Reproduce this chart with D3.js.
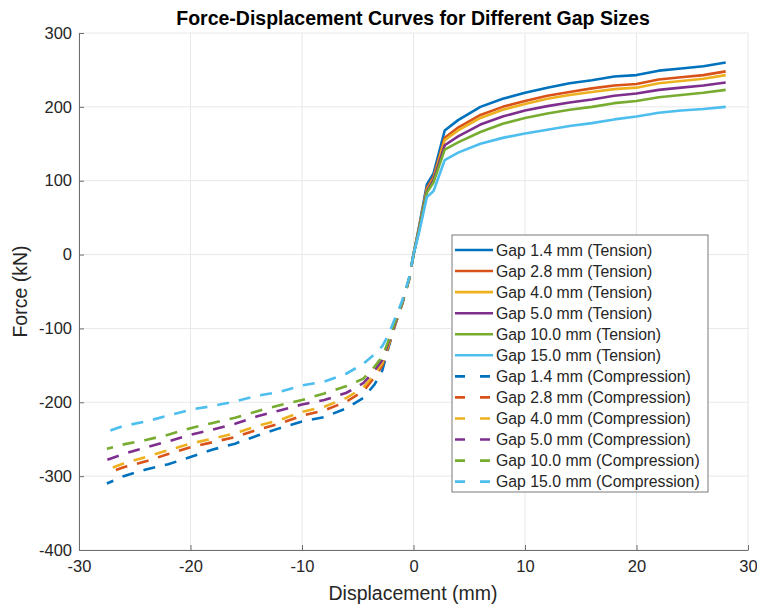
<!DOCTYPE html>
<html>
<head>
<meta charset="utf-8">
<script src="https://cdn.jsdelivr.net/npm/d3@7"></script>
<style>
  body { margin: 0; background: #fff; }
  svg text { font-family: "Liberation Sans", Arial, sans-serif; fill: #262626; }
</style>
</head>
<body>
<svg id="svg" width="757" height="604"></svg>
<script>
const svg = d3.select('#svg')

// ------ data ------
const gapLabels = ['1.4', '2.8', '4.0', '5.0', '10.0', '15.0']
const colors = ['#0072BD', '#D95319', '#EDB120', '#7E2F8E', '#77AC30', '#4DBEEE']

// tension side (displacement > 0)
const xTension = [0, 0.5, 1.2, 1.8, 2.8, 4, 6, 8, 10, 12, 14, 16, 18, 20, 22, 24, 26, 28]
const tension14 = [0, 38, 95, 110, 168, 182, 200, 211, 219, 226, 232, 236, 241, 243, 249, 252, 255, 260]
const tension28 = [0, 36, 90, 105, 158, 172, 189, 200, 208, 215, 220, 225, 229, 231, 237, 240, 243, 248]
const tension40 = [0, 35, 88, 103, 155, 168, 185, 196, 204, 211, 216, 220, 224, 226, 232, 235, 238, 243]
const tension50 = [0, 34, 86, 101, 148, 160, 176, 187, 195, 201, 206, 210, 215, 218, 223, 226, 229, 233]
const tension100 = [0, 33, 84, 98, 142, 152, 166, 177, 185, 191, 196, 200, 205, 208, 213, 216, 219, 223]
const tension150 = [0, 30, 78, 86, 128, 138, 150, 158, 164, 169, 174, 178, 183, 187, 192, 195, 197, 200]

// compression side (displacement < 0)
const xCompression = [0, -0.4, -1.0, -1.7, -2.3, -2.8, -3.5, -4.5, -6, -8, -10, -12, -14, -16, -18, -20, -22, -24, -26, -27.5]
const compression14 = [0, -34, -66, -98, -129, -157, -176, -194, -208, -220, -226, -235, -245, -256, -264, -274, -284, -291, -300, -310]
const compression28 = [0, -34, -66, -97, -127, -150, -166, -185, -199, -211, -218, -229, -237, -247, -254, -261, -270, -280, -288, -296]
const compression40 = [0, -34, -66, -96, -125, -147, -162, -180, -194, -206, -213, -224, -232, -242, -249, -256, -265, -274, -283, -291]
const compression50 = [0, -33, -65, -95, -122, -143, -157, -174, -187, -197, -203, -211, -219, -229, -237, -244, -253, -261, -270, -278]
const compression100 = [0, -33, -64, -93, -119, -138, -152, -168, -178, -188, -197, -204, -212, -221, -228, -235, -244, -251, -257, -263]
const compression150 = [0, -32, -62, -88, -110, -124, -135, -148, -161, -172, -177, -186, -191, -199, -205, -210, -218, -226, -232, -240]

const tensionSeries = [tension14, tension28, tension40, tension50, tension100, tension150]
const compressionSeries = [compression14, compression28, compression40, compression50, compression100, compression150]

const xTicks = [-30, -20, -10, 0, 10, 20, 30]
const yTicks = [-400, -300, -200, -100, 0, 100, 200, 300]

// ------ layout ------
const mLeft = 79, mRight = 748, mTop = 33, mBottom = 550

const x = d3.scaleLinear().domain([-30, 30]).range([mLeft, mRight])
const y = d3.scaleLinear().domain([-400, 300]).range([mBottom, mTop])

// grid
const grid = svg.append('g')
grid.selectAll('.gx').data(xTicks).enter().append('line')
  .attr('x1', d => x(d)).attr('x2', d => x(d))
  .attr('y1', mTop).attr('y2', mBottom)
  .style('stroke', '#e8e8e8').style('stroke-width', 1)
grid.selectAll('.gy').data(yTicks).enter().append('line')
  .attr('x1', mLeft).attr('x2', mRight)
  .attr('y1', d => y(d)).attr('y2', d => y(d))
  .style('stroke', '#e8e8e8').style('stroke-width', 1)

// axes (ticks pointing inward like matlab), plain hyphen for negatives
const xAxis = d3.axisBottom(x).tickValues(xTicks).tickFormat(d => String(d)).tickSizeInner(-5).tickSizeOuter(0).tickPadding(10)
const yAxis = d3.axisLeft(y).tickValues(yTicks).tickFormat(d => String(d)).tickSizeInner(-5).tickSizeOuter(0).tickPadding(7)

const gx = svg.append('g').attr('transform', `translate(0,${mBottom})`).call(xAxis)
const gy = svg.append('g').attr('transform', `translate(${mLeft},0)`).call(yAxis)
;[gx, gy].forEach(g => {
  g.select('.domain').style('stroke', '#6e6e6e').style('stroke-width', 1)
  g.selectAll('.tick line').style('stroke', '#6e6e6e')
  g.selectAll('.tick text').style('font-size', '16.5px').style('fill', '#262626')
})

// ------ curves ------
const line = d3.line().x(d => x(d[0])).y(d => y(d[1]))

const plot = svg.append('g')
tensionSeries.forEach((vals, i) => {
  plot.append('path')
    .datum(xTension.map((xv, j) => [xv, vals[j]]))
    .attr('fill', 'none')
    .attr('stroke', colors[i])
    .attr('stroke-width', 2.6)
    .attr('stroke-linejoin', 'round')
    .attr('d', line)
})
compressionSeries.forEach((vals, i) => {
  plot.append('path')
    .datum(xCompression.map((xv, j) => [xv, vals[j]]))
    .attr('fill', 'none')
    .attr('stroke', colors[i])
    .attr('stroke-width', 2.6)
    .attr('stroke-dasharray', '12,10')
    .attr('d', line)
})

// ------ labels ------
svg.append('text')
  .attr('x', 413).attr('y', 25)
  .attr('text-anchor', 'middle')
  .style('font-size', '19.5px').style('font-weight', 'bold').style('fill', '#000')
  .text('Force-Displacement Curves for Different Gap Sizes')

svg.append('text')
  .attr('x', 413).attr('y', 600)
  .attr('text-anchor', 'middle')
  .style('font-size', '19.5px')
  .text('Displacement (mm)')

svg.append('text')
  .attr('transform', `translate(27,${(mTop + mBottom) / 2}) rotate(-90)`)
  .attr('text-anchor', 'middle')
  .style('font-size', '19.5px')
  .text('Force (kN)')

// ------ legend ------
const legendItems = []
gapLabels.forEach((g, i) => legendItems.push({ text: `Gap ${g} mm (Tension)`, color: colors[i], dash: null }))
gapLabels.forEach((g, i) => legendItems.push({ text: `Gap ${g} mm (Compression)`, color: colors[i], dash: '10,15' }))

const legend = svg.append('g').attr('transform', 'translate(452,235)')
legend.append('rect')
  .attr('width', 256).attr('height', 257)
  .style('fill', '#fff').style('stroke', '#7a7a7a').style('stroke-width', 1)

const rows = legend.selectAll('.row').data(legendItems).enter().append('g')
  .attr('transform', (d, i) => `translate(0,${15 + i * 21.06})`)
rows.append('line')
  .attr('x1', 3).attr('x2', 41).attr('y1', 0).attr('y2', 0)
  .style('stroke', d => d.color).style('stroke-width', 2.6)
  .style('stroke-dasharray', d => d.dash)
rows.append('text')
  .attr('x', 44).attr('y', 5.5)
  .style('font-size', '15.8px')
  .text(d => d.text)
</script>
</body>
</html>
